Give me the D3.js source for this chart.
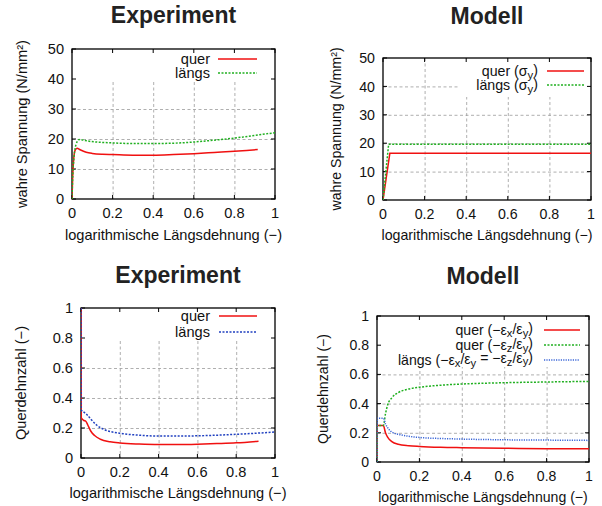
<!DOCTYPE html>
<html>
<head>
<meta charset="utf-8">
<script src="https://cdn.jsdelivr.net/npm/d3@7"></script>
<style>
  body { margin: 0; background: #fff; }
  svg { display: block; font-family: "Liberation Sans", Arial, sans-serif; }
</style>
</head>
<body>
<svg id="chart" width="602" height="506"></svg>
<script>
// tick values
const xTicks = [0, 0.2, 0.4, 0.6, 0.8, 1];
const stressTicks = [0, 10, 20, 30, 40, 50];
const ratioTicks = [0, 0.2, 0.4, 0.6, 0.8, 1];

// Experiment: true stress (N/mm²) vs log strain, [strain, value]
const expStressQuer = [[0,0],[0.003,7],[0.008,13],[0.015,16.2],[0.025,16.9],[0.04,16.4],[0.07,15.6],[0.1,15.2],[0.15,14.9],[0.2,14.8],[0.3,14.6],[0.4,14.6],[0.5,14.8],[0.6,15.1],[0.7,15.5],[0.8,15.9],[0.86,16.2],[0.915,16.5]];
const expStressLaengs = [[0,0],[0.004,8],[0.01,14],[0.02,18.2],[0.035,19.8],[0.05,19.7],[0.08,19.3],[0.12,19],[0.2,18.7],[0.3,18.5],[0.4,18.5],[0.5,18.6],[0.6,19],[0.7,19.6],[0.8,20.3],[0.9,21.2],[1.0,22.1]];

// Modell: yield stress
const modStressQuer = [[0,0],[0.033,16.5],[1,16.5]];
const modStressLaengs = [[0,0],[0.027,19.6],[1,19.6]];

// Experiment: Querdehnzahl
const expRatioQuer = [[0,1],[0.001,0.27],[0.006,0.26],[0.015,0.25],[0.025,0.245],[0.035,0.22],[0.05,0.18],[0.07,0.15],[0.1,0.125],[0.15,0.108],[0.2,0.1],[0.3,0.093],[0.4,0.09],[0.5,0.09],[0.6,0.092],[0.7,0.096],[0.8,0.101],[0.915,0.112]];
const expRatioLaengs = [[0,1],[0.001,0.32],[0.01,0.31],[0.03,0.29],[0.05,0.26],[0.08,0.22],[0.12,0.19],[0.2,0.165],[0.3,0.152],[0.4,0.146],[0.5,0.146],[0.6,0.148],[0.7,0.152],[0.8,0.158],[0.9,0.165],[1.0,0.173]];

// Modell: Querdehnzahl
const modRatioQuerX = [[0,0],[0.001,0.25],[0.03,0.25],[0.04,0.2],[0.05,0.17],[0.07,0.14],[0.1,0.122],[0.15,0.112],[0.2,0.107],[0.3,0.101],[0.4,0.098],[0.6,0.094],[0.8,0.091],[1,0.09]];
const modRatioQuerZ = [[0,0],[0.001,0.25],[0.03,0.25],[0.04,0.33],[0.05,0.39],[0.07,0.44],[0.1,0.475],[0.15,0.5],[0.2,0.512],[0.3,0.526],[0.4,0.534],[0.6,0.543],[0.8,0.548],[1,0.552]];
const modRatioLaengs = [[0,0],[0.001,0.3],[0.03,0.3],[0.04,0.26],[0.05,0.235],[0.07,0.205],[0.1,0.19],[0.15,0.176],[0.2,0.168],[0.3,0.161],[0.4,0.157],[0.6,0.152],[0.8,0.15],[1,0.148]];

const RED = "#f01010", GREEN = "#20b020", BLUE = "#2040c0", LBLUE = "#3a66d8";
const xLabel = "logarithmische Längsdehnung (−)";

const svg = d3.select("#chart");

// label parts: [text, "sub"] pieces
const panels = [
  {
    title: "Experiment", yLabel: "wahre Spannung (N/mm²)", yTicks: stressTicks, yMax: 50, yLabX: 27,
    box: {l: 72, r: 275, t: 49, b: 199}, fs: 14.6, key: {x: 210, s0: 218, s1: 257, rows: [59, 73]},
    keyBox: [72, 49, 275, 80], xLabY: 240, titleY: 23,
    series: [
      {data: expStressQuer, color: RED, dash: null, label: [["quer"]], curve: d3.curveMonotoneX},
      {data: expStressLaengs, color: GREEN, dash: "2,1.5", label: [["längs"]], curve: d3.curveMonotoneX}
    ]
  },
  {
    title: "Modell", yLabel: "wahre Spannung (N/mm²)", yTicks: stressTicks, yMax: 50, yLabX: 341,
    box: {l: 383, r: 591, t: 58, b: 200}, fs: 14.2, key: {x: 538, s0: 547, s1: 584, rows: [71, 85]},
    keyBox: [460, 58, 591, 97], xLabY: 240, titleY: 24,
    series: [
      {data: modStressQuer, color: RED, dash: null, label: [["quer (σ"], ["y", "sub"], [")"]], curve: d3.curveLinear},
      {data: modStressLaengs, color: GREEN, dash: "2,1.5", label: [["längs (σ"], ["y", "sub"], [")"]], curve: d3.curveLinear}
    ]
  },
  {
    title: "Experiment", yLabel: "Querdehnzahl (−)", yTicks: ratioTicks, yMax: 1, yLabX: 26,
    box: {l: 81, r: 275, t: 308, b: 458}, fs: 14.6, key: {x: 210, s0: 219, s1: 257, rows: [316, 332]},
    keyBox: [81, 308, 275, 340], xLabY: 498, titleY: 283,
    series: [
      {data: expRatioQuer, color: RED, dash: null, label: [["quer"]], curve: d3.curveMonotoneX},
      {data: expRatioLaengs, color: BLUE, dash: "2,1.5", label: [["längs"]], curve: d3.curveMonotoneX}
    ]
  },
  {
    title: "Modell", yLabel: "Querdehnzahl (−)", yTicks: ratioTicks, yMax: 1, yLabX: 328,
    box: {l: 377, r: 589, t: 316, b: 462}, fs: 14.1, key: {x: 533, s0: 544, s1: 580, rows: [330, 345, 360]},
    keyBox: [377, 316, 589, 367], xLabY: 502, titleY: 284,
    series: [
      {data: modRatioQuerX, color: RED, dash: null, label: [["quer (−ε"], ["x", "sub"], ["/ε"], ["y", "sub"], [")"]], curve: d3.curveMonotoneX},
      {data: modRatioQuerZ, color: GREEN, dash: "2,1.5", label: [["quer (−ε"], ["z", "sub"], ["/ε"], ["y", "sub"], [")"]], curve: d3.curveMonotoneX},
      {data: modRatioLaengs, color: LBLUE, dash: "1.2,1.2", label: [["längs (−ε"], ["x", "sub"], ["/ε"], ["y", "sub"], [" = −ε"], ["z", "sub"], ["/ε"], ["y", "sub"], [")"]], curve: d3.curveMonotoneX}
    ]
  }
];

const fmtTick = d => String(+d.toFixed(1));

panels.forEach((p, i) => {
  const b = p.box;
  const x = d3.scaleLinear().domain([0, 1]).range([b.l, b.r]);
  const y = d3.scaleLinear().domain([0, p.yMax]).range([b.b, b.t]);
  const g = svg.append("g");
  const clipId = "clip" + i;
  g.append("clipPath").attr("id", clipId)
    .append("rect").attr("x", b.l).attr("y", b.t).attr("width", b.r - b.l).attr("height", b.b - b.t);

  // grid
  const grid = g.append("g").attr("stroke", "#9a9a9a").attr("stroke-width", 0.8).attr("stroke-dasharray", "3,2.5");
  grid.selectAll("line.gx").data(xTicks.slice(1, -1)).join("line")
    .attr("x1", d => x(d) + 0.5).attr("x2", d => x(d) + 0.5).attr("y1", b.t).attr("y2", b.b);
  grid.selectAll("line.gy").data(p.yTicks.slice(1, -1)).join("line")
    .attr("y1", d => y(d) + 0.5).attr("y2", d => y(d) + 0.5).attr("x1", b.l).attr("x2", b.r);

  // opaque key area
  const kb = p.keyBox;
  g.append("rect").attr("x", kb[0]).attr("y", kb[1]).attr("width", kb[2] - kb[0]).attr("height", kb[3] - kb[1]).attr("fill", "#fff");

  // ticks (inward, mirrored)
  const tk = g.append("g").attr("stroke", "#000").attr("stroke-width", 1);
  xTicks.forEach(d => {
    tk.append("line").attr("x1", x(d)).attr("x2", x(d)).attr("y1", b.b).attr("y2", b.b - 4);
    tk.append("line").attr("x1", x(d)).attr("x2", x(d)).attr("y1", b.t).attr("y2", b.t + 4);
  });
  p.yTicks.forEach(d => {
    tk.append("line").attr("y1", y(d)).attr("y2", y(d)).attr("x1", b.l).attr("x2", b.l + 4);
    tk.append("line").attr("y1", y(d)).attr("y2", y(d)).attr("x1", b.r).attr("x2", b.r - 4);
  });

  // frame
  g.append("rect").attr("x", b.l).attr("y", b.t).attr("width", b.r - b.l).attr("height", b.b - b.t)
    .attr("fill", "none").attr("stroke", "#000").attr("stroke-width", 1.3);

  // tick labels
  g.append("g").selectAll("text").data(xTicks).join("text")
    .attr("x", d => x(d)).attr("y", b.b + 19).attr("text-anchor", "middle")
    .attr("font-size", p.fs).attr("fill", "#111").text(fmtTick);
  g.append("g").selectAll("text").data(p.yTicks).join("text")
    .attr("x", b.l - 8).attr("y", d => y(d)).attr("dy", "0.36em").attr("text-anchor", "end")
    .attr("font-size", p.fs).attr("fill", "#111").text(fmtTick);

  // axis labels and title
  g.append("text").attr("x", (b.l + b.r) / 2).attr("y", p.xLabY).attr("text-anchor", "middle")
    .attr("font-size", p.fs).attr("fill", "#111").text(xLabel);
  g.append("text").attr("transform", `translate(${p.yLabX},${(b.t + b.b) / 2}) rotate(-90)`)
    .attr("text-anchor", "middle").attr("font-size", p.fs).attr("fill", "#111").text(p.yLabel);
  g.append("text").attr("x", (b.l + b.r) / 2).attr("y", p.titleY).attr("text-anchor", "middle")
    .attr("font-size", 23).attr("font-weight", "bold").attr("fill", "#222").text(p.title);

  // curves
  const cg = g.append("g").attr("clip-path", `url(#${clipId})`);
  p.series.forEach(s => {
    const line = d3.line().x(d => x(d[0])).y(d => y(d[1])).curve(s.curve);
    cg.append("path").datum(s.data).attr("d", line).attr("fill", "none")
      .attr("stroke", s.color).attr("stroke-width", 1.5)
      .attr("stroke-dasharray", s.dash);
  });

  // key
  p.series.forEach((s, j) => {
    const ry = p.key.rows[j];
    g.append("line").attr("x1", p.key.s0).attr("x2", p.key.s1).attr("y1", ry).attr("y2", ry)
      .attr("stroke", s.color).attr("stroke-width", 1.5).attr("stroke-dasharray", s.dash);
    const t = g.append("text").attr("x", p.key.x).attr("y", ry).attr("dy", "0.33em")
      .attr("text-anchor", "end").attr("font-size", p.fs).attr("fill", "#111");
    let sub = false;
    s.label.forEach(part => {
      const isSub = part[1] === "sub";
      const ts = t.append("tspan").text(part[0]);
      if (isSub && !sub) ts.attr("dy", "0.25em").attr("font-size", p.fs * 0.8);
      else if (isSub && sub) ts.attr("font-size", p.fs * 0.8);
      else if (!isSub && sub) ts.attr("dy", "-0.25em");
      sub = isSub;
    });
  });
});
</script>
</body>
</html>
